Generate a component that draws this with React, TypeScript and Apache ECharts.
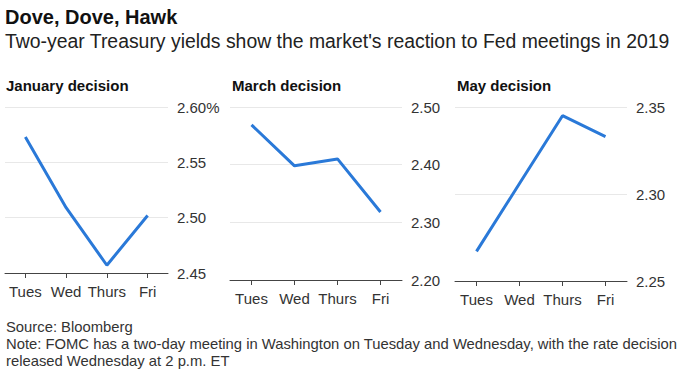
import React, { useEffect, useRef } from "react";
import * as echarts from "echarts";

const days = ["Tues", "Wed", "Thurs", "Fri"];
const janYields = [2.573, 2.509, 2.457, 2.502];
const marYields = [2.469, 2.398, 2.41, 2.318];
const mayYields = [2.267, 2.306, 2.345, 2.333];
const panelTitles = ["January decision", "March decision", "May decision"];
const janAxis = { min: 2.45, max: 2.6, interval: 0.05 };
const marAxis = { min: 2.2, max: 2.5, interval: 0.1 };
const mayAxis = { min: 2.25, max: 2.35, interval: 0.05 };

const FONT = "'Liberation Sans', Arial, sans-serif";
const BLUE = "#2a79d8";

export default function App() {
  const ref = useRef<HTMLDivElement>(null);
  useEffect(() => {
    if (!ref.current) return;
    const chart = echarts.init(ref.current, undefined, { renderer: "svg" });
    const grids = [
      { left: 5, top: 107, width: 163, height: 166 },
      { left: 230, top: 107, width: 172, height: 173 },
      { left: 455, top: 107, width: 172, height: 174 },
    ];
    const axes = [janAxis, marAxis, mayAxis];
    const data = [janYields, marYields, mayYields];
    chart.setOption({
      animation: false,
      backgroundColor: "#ffffff",
      textStyle: { fontFamily: FONT },
      grid: grids,
      xAxis: grids.map((_, i) => ({
        type: "category",
        gridIndex: i,
        data: days,
        boundaryGap: true,
        axisLine: { show: true, lineStyle: { color: "#444", width: 1 } },
        axisTick: { show: true, alignWithLabel: true, interval: 0, length: 5, lineStyle: { color: "#444" } },
        axisLabel: { color: "#333", fontSize: 15, margin: 11, interval: 0, fontFamily: FONT },
      })),
      yAxis: axes.map((a, i) => ({
        type: "value",
        gridIndex: i,
        position: "right",
        min: a.min,
        max: a.max,
        interval: a.interval,
        axisLine: { show: false },
        axisTick: { show: false },
        splitLine: { show: true, lineStyle: { color: "#e8e8e8", width: 1 } },
        axisLabel: {
          color: "#333",
          fontSize: 15,
          margin: 9,
          fontFamily: FONT,
          formatter: (v: number) => {
            const s = v.toFixed(2);
            return i === 0 && Math.abs(v - a.max) < 1e-9 ? s + "%" : s;
          },
        },
      })),
      series: data.map((d, i) => ({
        type: "line",
        xAxisIndex: i,
        yAxisIndex: i,
        data: d,
        symbol: "none",
        lineStyle: { color: BLUE, width: 3 },
      })),
      graphic: [
        {
          type: "text",
          left: 5,
          top: 7,
          style: { text: "Dove, Dove, Hawk", font: `bold 20px ${FONT}`, fill: "#111" },
        },
        {
          type: "text",
          left: 5,
          top: 31,
          style: {
            text: "Two-year Treasury yields show the market's reaction to Fed meetings in 2019",
            font: `19.4px ${FONT}`,
            fill: "#222",
          },
        },
        ...panelTitles.map((t, i) => ({
          type: "text",
          left: [6, 232, 457][i],
          top: 78,
          style: { text: t, font: `bold 15px ${FONT}`, fill: "#111" },
        })),
        {
          type: "text",
          left: 6,
          top: 319,
          style: { text: "Source: Bloomberg", font: `14.8px ${FONT}`, fill: "#333" },
        },
        {
          type: "text",
          left: 6,
          top: 336,
          style: {
            text: "Note: FOMC has a two-day meeting in Washington on Tuesday and Wednesday, with the rate decision",
            font: `14.8px ${FONT}`,
            fill: "#333",
          },
        },
        {
          type: "text",
          left: 6,
          top: 353,
          style: { text: "released Wednesday at 2 p.m. ET", font: `14.8px ${FONT}`, fill: "#333" },
        },
      ],
    });
    return () => chart.dispose();
  }, []);
  return <div ref={ref} style={{ width: 680, height: 377, position: "fixed", left: 0, top: 0 }} />;
}
